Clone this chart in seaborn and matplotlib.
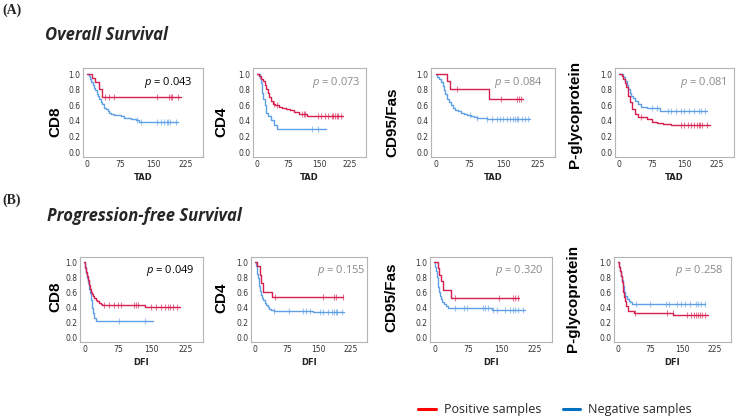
import numpy as np
import matplotlib
matplotlib.use("Agg")
import matplotlib.pyplot as plt
from matplotlib.lines import Line2D
from matplotlib import font_manager
import seaborn as sns

# ---------------- data ----------------
# Overall survival (TAD)
os_cd8_pos_t = [0, 11, 18, 26, 33]
os_cd8_pos_s = [1.0, 0.95, 0.90, 0.81, 0.71]
os_cd8_pos_end = 213
os_cd8_pos_c = [41, 49, 60, 160, 186, 190, 194, 206]
os_cd8_neg_t = [0, 3, 6, 9, 12, 15, 18, 21, 24, 27, 30, 34, 38, 42, 46, 50, 55, 60, 68, 76, 84, 92, 100, 110, 118, 122]
os_cd8_neg_s = [1.0, 0.97, 0.94, 0.90, 0.86, 0.82, 0.79, 0.75, 0.72, 0.68, 0.64, 0.61, 0.57, 0.55, 0.52, 0.50, 0.49, 0.48, 0.47, 0.46, 0.44, 0.43, 0.42, 0.41, 0.39, 0.38]
os_cd8_neg_end = 206
os_cd8_neg_c = [114, 122, 160, 168, 175, 181, 184, 189, 202]

os_cd4_pos_t = [0, 5, 10, 14, 18, 22, 26, 30, 34, 38, 44, 52, 60, 70, 80, 90, 102, 120]
os_cd4_pos_s = [1.0, 0.97, 0.94, 0.91, 0.86, 0.81, 0.76, 0.70, 0.66, 0.62, 0.60, 0.58, 0.56, 0.55, 0.54, 0.51, 0.49, 0.46]
os_cd4_pos_end = 208
os_cd4_pos_c = [41, 48, 109, 113, 117, 147, 154, 165, 173, 181, 185, 189, 193, 197, 204]
os_cd4_neg_t = [0, 7, 9, 11, 13, 15, 18, 22, 26, 33, 41, 48]
os_cd4_neg_s = [1.0, 0.95, 0.89, 0.82, 0.76, 0.68, 0.60, 0.50, 0.46, 0.41, 0.35, 0.30]
os_cd4_neg_end = 166
os_cd4_neg_c = [132, 147]

os_cd95_pos_t = [0, 25, 33, 119]
os_cd95_pos_s = [1.0, 0.91, 0.81, 0.68]
os_cd95_pos_end = 194
os_cd95_pos_c = [48, 145, 180, 185, 189]
os_cd95_neg_t = [0, 4, 8, 12, 16, 19, 22, 26, 30, 34, 39, 44, 50, 56, 63, 70, 78, 85, 92, 100, 114]
os_cd95_neg_s = [1.0, 0.96, 0.93, 0.90, 0.85, 0.80, 0.74, 0.68, 0.64, 0.60, 0.57, 0.54, 0.52, 0.50, 0.49, 0.48, 0.46, 0.45, 0.44, 0.43, 0.42]
os_cd95_neg_end = 209
os_cd95_neg_c = [77, 92, 114, 125, 136, 143, 150, 158, 165, 172, 176, 180, 183, 190, 198, 205]

os_pgp_pos_t = [0, 6, 9, 12, 16, 20, 24, 29, 35, 42, 64, 75, 86, 101, 120]
os_pgp_pos_s = [1.0, 0.97, 0.94, 0.89, 0.83, 0.72, 0.64, 0.55, 0.49, 0.45, 0.42, 0.39, 0.37, 0.36, 0.34]
os_pgp_pos_end = 208
os_pgp_pos_c = [50, 142, 149, 158, 164, 171, 179, 183, 186, 190, 201]
os_pgp_neg_t = [0, 8, 13, 17, 20, 24, 27, 31, 35, 42, 50, 64, 94]
os_pgp_neg_s = [1.0, 0.96, 0.91, 0.86, 0.81, 0.76, 0.72, 0.69, 0.66, 0.62, 0.58, 0.56, 0.53]
os_pgp_neg_end = 201
os_pgp_neg_c = [75, 86, 112, 120, 131, 142, 149, 160, 171, 183, 187, 197]

# Progression-free survival (DFI)
pfs_cd8_pos_t = [0, 2, 4, 6, 8, 10, 12, 14, 16, 19, 22, 25, 28, 32, 36, 40, 134]
pfs_cd8_pos_s = [1.0, 0.92, 0.87, 0.81, 0.76, 0.70, 0.65, 0.61, 0.58, 0.55, 0.52, 0.50, 0.48, 0.46, 0.44, 0.43, 0.41]
pfs_cd8_pos_end = 212
pfs_cd8_pos_c = [44, 55, 66, 74, 81, 111, 115, 119, 149, 160, 171, 179, 186, 190, 198, 205]
pfs_cd8_neg_t = [0, 2, 4, 6, 8, 10, 12, 14, 16, 19, 22, 26]
pfs_cd8_neg_s = [1.0, 0.93, 0.86, 0.79, 0.72, 0.65, 0.59, 0.50, 0.39, 0.33, 0.26, 0.22]
pfs_cd8_neg_end = 152
pfs_cd8_neg_c = [77, 134]

pfs_cd4_pos_t = [0, 5, 11, 13, 18, 40]
pfs_cd4_pos_s = [1.0, 0.95, 0.83, 0.72, 0.60, 0.54]
pfs_cd4_pos_end = 208
pfs_cd4_pos_c = [47, 159, 186, 190, 208]
pfs_cd4_neg_t = [0, 2, 3, 5, 6, 8, 9, 11, 13, 16, 19, 22, 25, 29, 32, 38, 44, 136]
pfs_cd4_neg_s = [1.0, 0.95, 0.90, 0.84, 0.79, 0.73, 0.68, 0.62, 0.57, 0.53, 0.50, 0.46, 0.43, 0.40, 0.38, 0.37, 0.36, 0.345]
pfs_cd4_neg_end = 209
pfs_cd4_neg_c = [44, 79, 114, 121, 129, 152, 159, 171, 182, 186, 190, 194, 205]

pfs_cd95_pos_t = [0, 7, 10, 14, 19, 38]
pfs_cd95_pos_s = [1.0, 0.92, 0.83, 0.75, 0.63, 0.52]
pfs_cd95_pos_end = 191
pfs_cd95_pos_c = [47, 144, 177, 182, 187]
pfs_cd95_neg_t = [0, 2, 3, 5, 7, 9, 11, 13, 15, 18, 21, 25, 31, 129]
pfs_cd95_neg_s = [1.0, 0.93, 0.88, 0.80, 0.74, 0.67, 0.60, 0.55, 0.51, 0.47, 0.44, 0.42, 0.395, 0.37]
pfs_cd95_neg_end = 203
pfs_cd95_neg_c = [47, 66, 73, 110, 114, 121, 132, 140, 158, 169, 177, 180, 187, 198]

pfs_pgp_pos_t = [0, 2, 4, 6, 8, 10, 12, 14, 16, 19, 23, 38, 128]
pfs_pgp_pos_s = [1.0, 0.94, 0.88, 0.81, 0.74, 0.68, 0.60, 0.54, 0.48, 0.42, 0.36, 0.33, 0.295]
pfs_pgp_pos_end = 211
pfs_pgp_pos_c = [40, 113, 127, 162, 170, 177, 183, 186, 191, 196, 204]
pfs_pgp_neg_t = [0, 2, 4, 6, 8, 10, 13, 16, 20, 24, 28, 33, 38]
pfs_pgp_neg_s = [1.0, 0.94, 0.88, 0.82, 0.76, 0.68, 0.60, 0.55, 0.51, 0.49, 0.47, 0.45, 0.44]
pfs_pgp_neg_end = 203
pfs_pgp_neg_c = [41, 74, 111, 119, 138, 146, 157, 168, 183, 187, 194, 203]

markers = ["CD8", "CD4", "CD95/Fas", "P-glycoprotein"]
os_pvalues = ["0.043", "0.073", "0.084", "0.081"]
pfs_pvalues = ["0.049", "0.155", "0.320", "0.258"]
x_ticks = [0, 75, 150, 225]
y_ticks = [0.0, 0.2, 0.4, 0.6, 0.8, 1.0]
legend_labels = ["Positive samples", "Negative samples"]

# ---------------- style ----------------
sns.set_theme(style="white")
names = {f.name for f in font_manager.fontManager.ttflist}
plt.rcParams["font.family"] = ["DejaVu Sans"]
plt.rcParams["mathtext.fontset"] = "custom"
plt.rcParams["mathtext.it"] = "Open Sans:italic"
plt.rcParams["mathtext.rm"] = "Open Sans"

if "Liberation Sans Narrow" in names:
    ylab_family, ylab_size = ["Liberation Sans Narrow", "DejaVu Sans"], 13
else:
    ylab_family, ylab_size = ["Liberation Sans", "DejaVu Sans"], 11

RED = "#d61f4e"
BLUE = "#5f9fe6"
W, H = 740, 420

fig = plt.figure(figsize=(7.4, 4.2), dpi=100)


def add_ax(l, t, r, b):
    return fig.add_axes([l / W, 1 - b / H, (r - l) / W, (b - t) / H])


def km(ax, t, s, end, c, color):
    x = list(t) + [end]
    y = list(s) + [s[-1]]
    sns.lineplot(x=x, y=y, drawstyle="steps-post", estimator=None, sort=False,
                 color=color, lw=1.0, ax=ax)
    ta = np.asarray(t)
    sa = np.asarray(s)
    yc = sa[np.searchsorted(ta, np.asarray(c), side="right") - 1]
    sns.scatterplot(x=c, y=yc, marker="|", s=24, linewidth=0.8, color=color,
                    alpha=0.6, ax=ax)


os_data = [
    (os_cd8_pos_t, os_cd8_pos_s, os_cd8_pos_end, os_cd8_pos_c, os_cd8_neg_t, os_cd8_neg_s, os_cd8_neg_end, os_cd8_neg_c),
    (os_cd4_pos_t, os_cd4_pos_s, os_cd4_pos_end, os_cd4_pos_c, os_cd4_neg_t, os_cd4_neg_s, os_cd4_neg_end, os_cd4_neg_c),
    (os_cd95_pos_t, os_cd95_pos_s, os_cd95_pos_end, os_cd95_pos_c, os_cd95_neg_t, os_cd95_neg_s, os_cd95_neg_end, os_cd95_neg_c),
    (os_pgp_pos_t, os_pgp_pos_s, os_pgp_pos_end, os_pgp_pos_c, os_pgp_neg_t, os_pgp_neg_s, os_pgp_neg_end, os_pgp_neg_c),
]
pfs_data = [
    (pfs_cd8_pos_t, pfs_cd8_pos_s, pfs_cd8_pos_end, pfs_cd8_pos_c, pfs_cd8_neg_t, pfs_cd8_neg_s, pfs_cd8_neg_end, pfs_cd8_neg_c),
    (pfs_cd4_pos_t, pfs_cd4_pos_s, pfs_cd4_pos_end, pfs_cd4_pos_c, pfs_cd4_neg_t, pfs_cd4_neg_s, pfs_cd4_neg_end, pfs_cd4_neg_c),
    (pfs_cd95_pos_t, pfs_cd95_pos_s, pfs_cd95_pos_end, pfs_cd95_pos_c, pfs_cd95_neg_t, pfs_cd95_neg_s, pfs_cd95_neg_end, pfs_cd95_neg_c),
    (pfs_pgp_pos_t, pfs_pgp_pos_s, pfs_pgp_pos_end, pfs_pgp_pos_c, pfs_pgp_neg_t, pfs_pgp_neg_s, pfs_pgp_neg_end, pfs_pgp_neg_c),
]

# layout in pixels: (left, right) boxes, ylabel centre, p text right edge (axes frac)
os_boxes = [(83, 203), (253, 366), (431, 555), (615, 734)]
os_ylab = [(55, 122), (221, 122), (392, 122), (575, 114)]
os_px = [0.91, 0.955, 0.90, 0.94]
pfs_boxes = [(80, 203), (251, 367), (430, 552), (614, 731)]
pfs_ylab = [(55, 297), (221, 298), (391, 297), (573, 298)]
pfs_px = [0.93, 0.985, 0.93, 0.94]

rows = [
    (os_data, os_boxes, (68, 157), os_ylab, os_px, os_pvalues, "TAD", (-0.064, 1.077)),
    (pfs_data, pfs_boxes, (257, 342), pfs_ylab, pfs_px, pfs_pvalues, "DFI", (-0.055, 1.066)),
]

for data, boxes, (top, bot), ylabs, pxs, pvals, xlab, ylim in rows:
    for i in range(4):
        l, r = boxes[i]
        ax = add_ax(l, top, r, bot)
        pt, ps, pe, pc, nt, ns, ne, nc = data[i]
        km(ax, nt, ns, ne, nc, BLUE)
        km(ax, pt, ps, pe, pc, RED)
        ax.set_xlim(-10, 264)
        ax.set_ylim(*ylim)
        ax.set_xticks(x_ticks)
        ax.set_yticks(y_ticks)
        ax.set_xticklabels([str(v) for v in x_ticks])
        ax.set_yticklabels([f"{v:.1f}" for v in y_ticks])
        ax.tick_params(axis="both", length=0, pad=2, labelsize=5.5, labelcolor="#333333")
        for sp in ax.spines.values():
            sp.set_color("#b4b4b4")
            sp.set_linewidth(0.8)
        ax.set_xlabel(xlab, fontsize=6, fontweight="bold", color="#222222", labelpad=3)
        ax.set_ylabel("")
        ax.grid(False)
        pcol = "#000000" if i == 0 else "#8a8a8a"
        ax.text(pxs[i], 0.84, r"$\mathit{p}$ = " + pvals[i], transform=ax.transAxes,
                ha="right", va="center", fontsize=8, color=pcol, family="Open Sans")
        xl, yl = ylabs[i]
        fig.text(xl / W, 1 - yl / H, markers[i], rotation=90, ha="center", va="center",
                 fontsize=ylab_size, fontweight="bold", family=ylab_family, color="#000000")

# panel labels and titles
fig.text(2 / W, 1 - 10 / H, "(A)", ha="left", va="center", fontsize=10,
         fontweight="bold", family=["Liberation Serif", "DejaVu Serif"])
fig.text(2 / W, 1 - 200 / H, "(B)", ha="left", va="center", fontsize=10,
         fontweight="bold", family=["Liberation Serif", "DejaVu Serif"])
fig.text(45 / W, 1 - 40 / H, "Overall Survival", ha="left", va="baseline", fontsize=12,
         fontweight="bold", style="italic", family=["Open Sans", "DejaVu Sans"])
fig.text(47 / W, 1 - 221 / H, "Progression-free Survival", ha="left", va="baseline",
         fontsize=12, fontweight="bold", style="italic", family=["Open Sans", "DejaVu Sans"])

handles = [Line2D([], [], color="#ff0000", lw=2.2), Line2D([], [], color="#0070c0", lw=2.2)]
fig.legend(handles, legend_labels, loc="center left", bbox_to_anchor=(418 / W, 1 - 410 / H),
           ncol=2, frameon=False, handlelength=1.4, handletextpad=0.65, columnspacing=1.75,
           borderpad=0, borderaxespad=0, prop={"family": ["Open Sans", "DejaVu Sans"], "size": 9})

fig.savefig("out.png", dpi=100)
